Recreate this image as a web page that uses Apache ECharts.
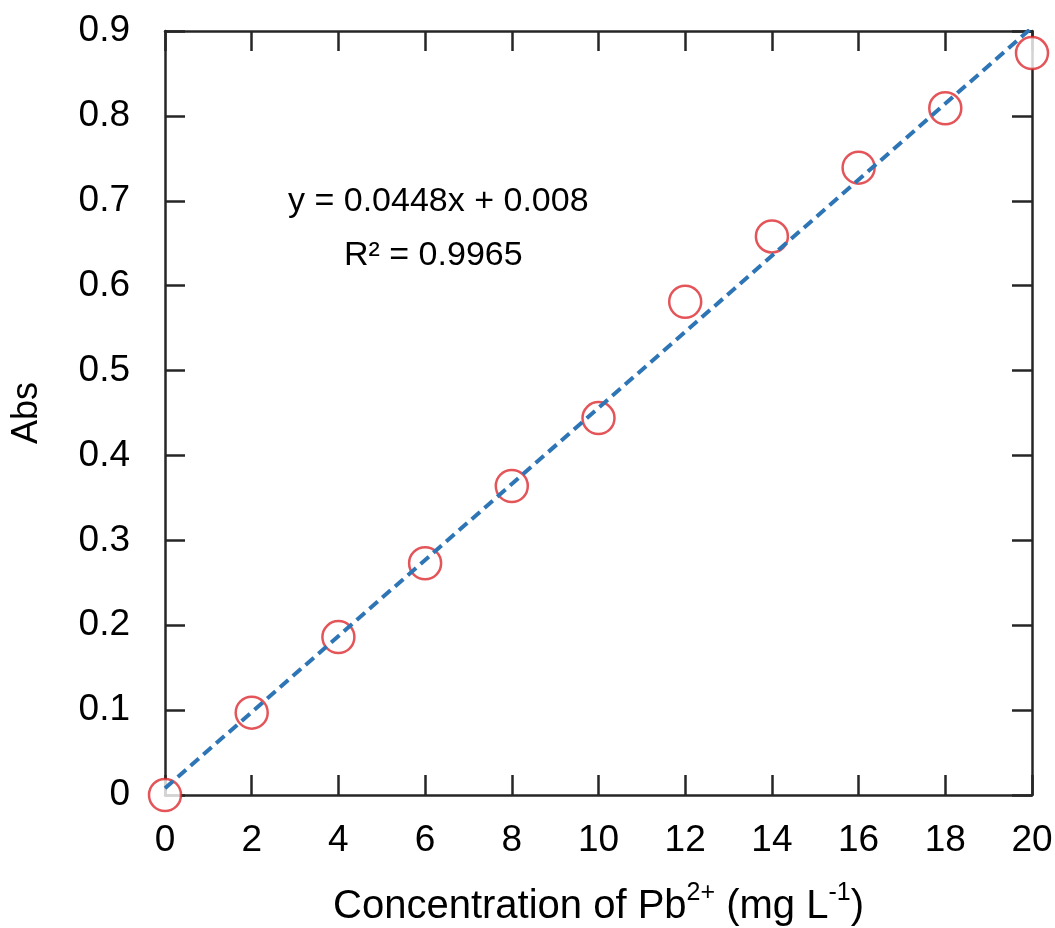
<!DOCTYPE html>
<html>
<head>
<meta charset="utf-8">
<script src="https://cdn.jsdelivr.net/npm/echarts@6/dist/echarts.min.js"></script>
<style>
  html, body { margin: 0; padding: 0; background: #fff; }
  #main { width: 1055px; height: 928px; }
</style>
</head>
<body>
<div id="main"></div>
<script>
// measured points
var concX = [0, 2, 4, 6, 8, 10, 12, 14, 16, 18, 20];
var absY = [0, 0.097, 0.186, 0.273, 0.364, 0.444, 0.581, 0.658, 0.739, 0.809, 0.874];
// linear fit y = 0.0448x + 0.008, end points
var fitX = [0, 20];
var fitY = [0.008, 0.904];
var eqText = 'y = 0.0448x + 0.008';
var r2Text = 'R² = 0.9965';

var font = 'Arial, "Liberation Sans", sans-serif';
var axisCol = '#262626';

var myChart = echarts.init(document.getElementById('main'));

var pts = concX.map(function(x, i) { return [x, absY[i]]; });
var fit = fitX.map(function(x, i) { return [x, fitY[i]]; });

// frame axes on top / right: ticks only
function sideAxis(pos) {
    var isX = pos === 'top';
    return {
        type: 'value', position: pos, min: 0, max: isX ? 20 : 0.9,
        interval: isX ? 2 : 0.1,
        axisLine: { show: true, onZero: false, lineStyle: { color: axisCol, width: 2.5 } },
        axisTick: { show: true, inside: true, length: 20, lineStyle: { color: axisCol, width: 2.5 } },
        axisLabel: { show: false },
        splitLine: { show: false }
    };
}

var option = {
    backgroundColor: '#fff',
    animation: false,
    grid: { left: 165, right: 23, top: 31, bottom: 133, outerBoundsMode: 'none' },
    xAxis: [{
        type: 'value', min: 0, max: 20, interval: 2,
        name: '{n|Concentration of Pb}{s|2+}{n| (mg L}{s|-1}{n|)}',
        nameLocation: 'middle', nameGap: 86,
        nameTextStyle: {
            rich: {
                n: { fontFamily: font, fontSize: 40, color: '#000', verticalAlign: 'bottom', lineHeight: 46 },
                s: { fontFamily: font, fontSize: 25, color: '#000', verticalAlign: 'top', lineHeight: 46, padding: [0, 0, 17, 0] }
            }
        },
        axisLine: { show: true, onZero: false, lineStyle: { color: axisCol, width: 2.5 } },
        axisTick: { show: true, inside: true, length: 20, lineStyle: { color: axisCol, width: 2.5 } },
        axisLabel: { margin: 27, fontFamily: font, fontSize: 37, color: '#000' },
        splitLine: { show: false }
    }, sideAxis('top')],
    yAxis: [{
        type: 'value', min: 0, max: 0.9, interval: 0.1,
        name: 'Abs', nameLocation: 'middle', nameGap: 120,
        nameTextStyle: { fontFamily: font, fontSize: 36, color: '#000' },
        axisLine: { show: true, onZero: false, lineStyle: { color: axisCol, width: 2.5 } },
        axisTick: { show: true, inside: true, length: 20, lineStyle: { color: axisCol, width: 2.5 } },
        axisLabel: { margin: 35, fontFamily: font, fontSize: 37, color: '#000' },
        splitLine: { show: false }
    }, sideAxis('right')],
    series: [
        {
            type: 'scatter', data: pts, clip: false, z: 5,
            symbol: 'circle', symbolSize: 32,
            itemStyle: { color: '#fff', borderColor: '#dc2a2f', borderWidth: 2.5 }
        },
        {
            type: 'line', data: fit, showSymbol: false, symbol: 'none', z: 6, clip: true,
            lineStyle: { color: '#2e75b6', width: 4, type: [11, 6] }
        }
    ],
    graphic: [
        { type: 'text', left: 288, top: 185, z: 10,
          style: { text: eqText, fontFamily: font, fontSize: 34, fill: '#000' } },
        { type: 'text', left: 344, top: 239, z: 10,
          style: { text: r2Text, fontFamily: font, fontSize: 34, fill: '#000' } }
    ]
};

myChart.setOption(option);
</script>
</body>
</html>
